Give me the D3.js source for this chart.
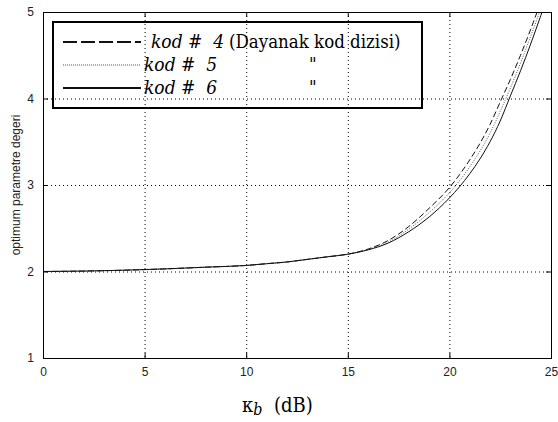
<!DOCTYPE html>
<html>
<head>
<meta charset="utf-8">
<script src="https://cdn.jsdelivr.net/npm/d3@7"></script>
<style>
  body { margin: 0; background: #fff; }
  svg { display: block; }
  .tick text { font-family: "Liberation Sans", Arial, sans-serif; font-size: 12px; fill: #222; }
  .serif { font-family: "DejaVu Serif Condensed", "DejaVu Serif", serif; }
</style>
</head>
<body>
<script>
const width = 558;
const height = 422;

const xTicks = [0, 5, 10, 15, 20, 25];
const yTicks = [1, 2, 3, 4, 5];

const kb = [0, 2, 4, 6, 8, 10, 11, 12, 13, 14, 15, 16, 17, 18, 19, 20, 20.5, 21, 21.5, 22, 22.5, 23, 23.5, 24, 24.5, 25];
const kod4 = [2.0, 2.005, 2.015, 2.03, 2.05, 2.07, 2.09, 2.11, 2.14, 2.17, 2.2, 2.26, 2.36, 2.52, 2.73, 2.97, 3.12, 3.29, 3.48, 3.7, 3.96, 4.22, 4.5, 4.8, 5.12, 5.45];
const kod5 = [2.0, 2.005, 2.015, 2.03, 2.05, 2.07, 2.09, 2.11, 2.14, 2.17, 2.2, 2.255, 2.34, 2.49, 2.68, 2.91, 3.05, 3.21, 3.39, 3.6, 3.85, 4.12, 4.41, 4.72, 5.04, 5.38];
const kod6 = [2.0, 2.005, 2.015, 2.03, 2.05, 2.07, 2.09, 2.11, 2.14, 2.17, 2.2, 2.25, 2.33, 2.46, 2.63, 2.85, 2.98, 3.13, 3.3, 3.5, 3.74, 4.03, 4.32, 4.63, 4.96, 5.3];

const series = [
  { name: "kod #  4", note: "(Dayanak kod dizisi)", values: kod4, dash: "6,3", legendDash: "14,4", w: 1, lw: 2, color: "#111" },
  { name: "kod #  5", note: "\"", values: kod5, dash: "1,1.5", legendDash: "1,1", w: 1, lw: 1, color: "#555" },
  { name: "kod #  6", note: "\"", values: kod6, dash: null, legendDash: null, w: 1, lw: 2, color: "#111" }
];

const svg = d3.select("body").append("svg")
  .attr("width", width)
  .attr("height", height);

const x = d3.scaleLinear().domain([0, 25]).range([43, 551]);
const y = d3.scaleLinear().domain([1, 5]).range([358, 12]);

// grid
const grid = svg.append("g").attr("stroke", "#000").attr("stroke-width", 1).attr("stroke-dasharray", "1,3");
grid.selectAll("line.gx")
  .data(xTicks.slice(1, -1))
  .join("line")
  .attr("x1", d => x(d) + 0.5).attr("x2", d => x(d) + 0.5)
  .attr("y1", y(5)).attr("y2", y(1));
grid.selectAll("line.gy")
  .data(yTicks.slice(1, -1))
  .join("line")
  .attr("y1", d => y(d) + 0.5).attr("y2", d => y(d) + 0.5)
  .attr("x1", x(0)).attr("x2", x(25));

// curves
svg.append("clipPath").attr("id", "clip")
  .append("rect")
  .attr("x", x(0)).attr("y", y(5))
  .attr("width", x(25) - x(0)).attr("height", y(1) - y(5));

const line = d3.line()
  .x((d, i) => x(kb[i]))
  .y(d => y(d))
  .curve(d3.curveMonotoneX);

svg.append("g").attr("clip-path", "url(#clip)")
  .selectAll("path")
  .data(series)
  .join("path")
  .attr("fill", "none")
  .attr("stroke", d => d.color)
  .attr("stroke-width", d => d.w)
  .attr("stroke-dasharray", d => d.dash)
  .attr("d", d => line(d.values));

// axes
svg.append("g")
  .attr("transform", `translate(0,${y(1)})`)
  .call(d3.axisBottom(x).tickValues(xTicks).tickFormat(d3.format("d")).tickSizeInner(-5).tickSizeOuter(0).tickPadding(9))
  .call(g => g.select(".domain").remove());
svg.append("g")
  .attr("transform", `translate(${x(0)},0)`)
  .call(d3.axisLeft(y).tickValues(yTicks).tickFormat(d3.format("d")).tickSizeInner(-5).tickSizeOuter(0).tickPadding(9))
  .call(g => g.select(".domain").remove());
svg.append("g")
  .attr("transform", `translate(0,${y(5)})`)
  .call(d3.axisTop(x).tickValues(xTicks).tickSizeInner(-5).tickSizeOuter(0).tickFormat(""))
  .call(g => g.select(".domain").remove());
svg.append("g")
  .attr("transform", `translate(${x(25)},0)`)
  .call(d3.axisRight(y).tickValues(yTicks).tickSizeInner(-5).tickSizeOuter(0).tickFormat(""))
  .call(g => g.select(".domain").remove());

svg.append("rect")
  .attr("x", x(0) + 0.5).attr("y", y(5) + 0.5)
  .attr("width", x(25) - x(0)).attr("height", y(1) - y(5))
  .attr("fill", "none").attr("stroke", "#000").attr("stroke-width", 1);

// legend
const legend = svg.append("g");
legend.append("rect")
  .attr("x", 53).attr("y", 22)
  .attr("width", 369).attr("height", 86)
  .attr("fill", "none").attr("stroke", "#000").attr("stroke-width", 2);

const rowY = [42, 65, 88];
series.forEach((s, i) => {
  legend.append("line")
    .attr("x1", 63).attr("x2", 141)
    .attr("y1", rowY[i]).attr("y2", rowY[i])
    .attr("stroke", s.color)
    .attr("stroke-width", s.lw)
    .attr("stroke-dasharray", s.legendDash);
  legend.append("text")
    .attr("class", "serif")
    .attr("x", i === 0 ? 151 : 144)
    .attr("y", rowY[i] + 6)
    .attr("font-style", "italic")
    .attr("font-size", 19)
    .attr("xml:space", "preserve")
    .text(s.name);
  legend.append("text")
    .attr("class", "serif")
    .attr("x", i === 0 ? 229 : 309)
    .attr("y", rowY[i] + 6)
    .attr("font-size", 18.5)
    .text(s.note);
});

// axis labels
svg.append("text")
  .attr("transform", `translate(20,${(y(1) + y(5)) / 2}) rotate(-90)`)
  .attr("text-anchor", "middle")
  .attr("font-family", "'Liberation Sans', Arial, sans-serif")
  .attr("font-size", 12)
  .attr("fill", "#222")
  .text("optimum parametre degeri");

const xl = svg.append("text")
  .attr("class", "serif")
  .attr("x", 242).attr("y", 412)
  .attr("font-size", 20);
xl.append("tspan").text("κ");
xl.append("tspan").attr("font-style", "italic").attr("font-size", 16).attr("dy", 3).text("b");
xl.append("tspan").attr("dy", -3).attr("xml:space", "preserve").text("  (dB)");
</script>
</body>
</html>
